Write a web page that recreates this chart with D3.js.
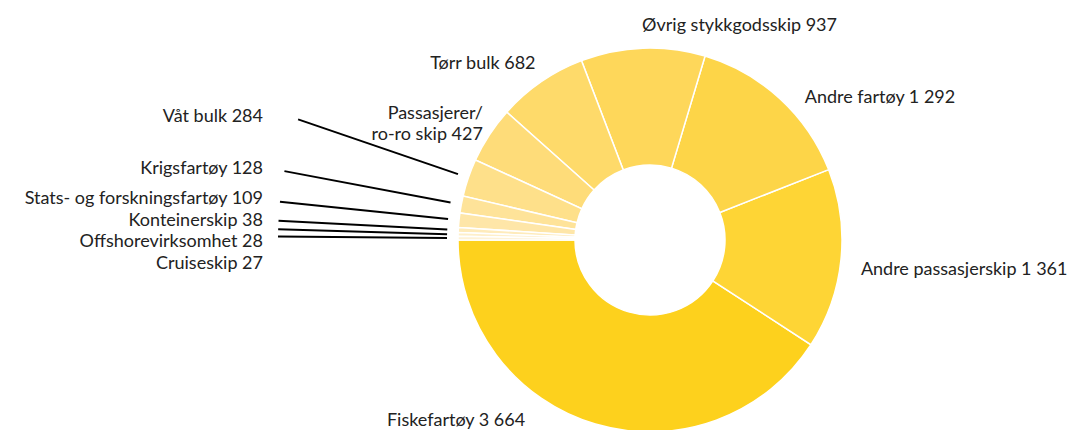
<!DOCTYPE html>
<html>
<head>
<meta charset="utf-8">
<script src="https://cdn.jsdelivr.net/npm/d3@7"></script>
<style>
  body { margin: 0; background: #fff; }
  svg { display: block; font-family: Lato, "Open Sans", sans-serif; }
</style>
</head>
<body>
<div id="chart"></div>
<script>
// Data
var categories = ["Fiskefartøy", "Andre passasjerskip", "Andre fartøy", "Øvrig stykkgodsskip",
  "Tørr bulk", "Passasjerer/\nro-ro skip", "Våt bulk", "Krigsfartøy",
  "Stats- og forskningsfartøy", "Konteinerskip", "Offshorevirksomhet", "Cruiseskip"];
var values = [3664, 1361, 1292, 937, 682, 427, 284, 128, 109, 38, 28, 27];
var valueLabels = ["3 664", "1 361", "1 292", "937", "682", "427", "284", "128", "109", "38", "28", "27"];

// Styling
var palette = ["#fdd11d", "#fed535", "#fdd548", "#fed75a", "#feda6a", "#fedc79",
  "#fee08a", "#fee399", "#fee6a8", "#feebbb", "#feefca", "#fef2d6"];
var smallLimit = 300; // slices below this get leader lines

var width = 1068, height = 430;
var cx = 650, cy = 240, outerR = 192, innerR = 75;

var svg = d3.select("#chart").append("svg")
  .attr("width", width).attr("height", height);

var g = svg.append("g").attr("transform", "translate(" + cx + "," + cy + ")");

var data = categories.map(function(c, i){
  return {name: c, value: values[i], label: valueLabels[i], color: palette[i], i: i};
});

// counter-clockwise from 9 o'clock
var pie = d3.pie().sort(null).value(d => d.value)
  .startAngle(1.5 * Math.PI).endAngle(-0.5 * Math.PI);
var arcs = pie(data);

var arc = d3.arc().innerRadius(innerR).outerRadius(outerR);

g.selectAll(".slice").data(arcs).enter().append("path")
  .attr("class", "slice")
  .attr("d", arc)
  .attr("fill", d => d.data.color)
  .attr("stroke", "#fff")
  .attr("stroke-width", 1.5);

function mid(d){ return (d.startAngle + d.endAngle) / 2; }
function polar(a, r){ return [Math.sin(a) * r, -Math.cos(a) * r]; }

// Big slice labels
var labelR = 214;
var nudge = {0: [-64, -24], 1: [-2, 8], 2: [10, 16], 4: [7, 0], 5: [12, 2]};
var big = arcs.filter(d => d.data.value >= smallLimit);

big.forEach(function(d){
  var a = mid(d);
  var p = polar(a, labelR);
  var n = nudge[d.data.i] || [0, 0];
  var anchor = Math.sin(a) > -0.1 ? "start" : "end";
  if (d.data.i === 0) anchor = "end";
  var lines = (d.data.name + " " + d.data.label).split("\n");
  var t = g.append("text")
    .attr("x", p[0] + n[0])
    .attr("y", p[1] + n[1] - (lines.length - 1) * 10.5)
    .attr("text-anchor", anchor)
    .attr("dominant-baseline", "middle")
    .attr("font-size", 18)
    .attr("fill", "#222");
  lines.forEach(function(l, k){
    t.append("tspan").attr("x", p[0] + n[0]).attr("dy", k === 0 ? 0 : 21).text(l);
  });
});

// Small slice labels with radial leader lines
var small = arcs.filter(d => d.data.value < smallLimit);
var lineIn = 203, lineOut = 372, labelX = -387, gap = 21.5;

var smallItems = small.map(function(d){
  var a = mid(d);
  var p0 = polar(a, lineIn), p1 = polar(a, lineOut);
  return {d: d, p0: p0, p1: p1, y: p1[1] - 2};
}).sort((a, b) => a.y - b.y);

for (var k = 1; k < smallItems.length; k++){
  if (smallItems[k].y - smallItems[k - 1].y < gap) smallItems[k].y = smallItems[k - 1].y + gap;
}

smallItems.forEach(function(s){
  g.append("line")
    .attr("x1", s.p1[0]).attr("y1", s.p1[1])
    .attr("x2", s.p0[0]).attr("y2", s.p0[1])
    .attr("stroke", "#000")
    .attr("stroke-width", 2);
  g.append("text")
    .attr("x", labelX)
    .attr("y", s.y)
    .attr("text-anchor", "end")
    .attr("dominant-baseline", "middle")
    .attr("font-size", 18)
    .attr("fill", "#222")
    .text(s.d.data.name + " " + s.d.data.label);
});
</script>
</body>
</html>
